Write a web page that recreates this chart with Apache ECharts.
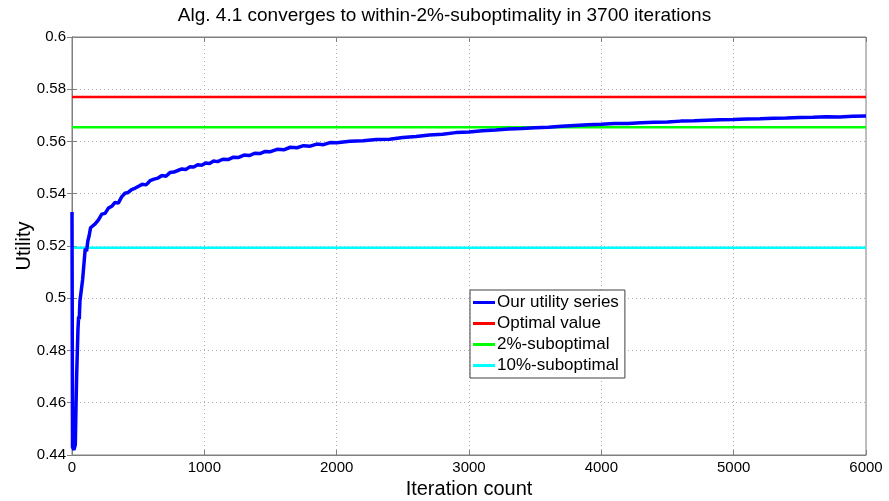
<!DOCTYPE html>
<html>
<head>
<meta charset="utf-8">
<script src="https://cdn.jsdelivr.net/npm/echarts@6/dist/echarts.min.js"></script>
<style>html,body{margin:0;padding:0;background:#fff;}#c{width:889px;height:501px;}</style>
</head>
<body>
<div id="c"></div>
<script>
const titleText = 'Alg. 4.1 converges to within-2%-suboptimality in 3700 iterations';
const xName = 'Iteration count';
const yName = 'Utility';
const seriesNames = ['Our utility series', 'Optimal value', '2%-suboptimal', '10%-suboptimal'];
const xTicks = [0, 1000, 2000, 3000, 4000, 5000, 6000];
const yTicks = [0.44, 0.46, 0.48, 0.5, 0.52, 0.54, 0.56, 0.58, 0.6];

const iterations = [
  0, 4, 15, 25, 30, 35, 40, 45, 50, 55, 60, 70, 80, 90, 100, 110, 120, 130, 140, 150,
  175, 200, 225, 250, 275, 300, 325, 350, 375, 400, 425, 450, 475, 500, 530, 560, 590, 620, 650, 680,
  710, 740, 770, 800, 830, 860, 890, 920, 950, 980, 1010, 1040, 1070, 1100, 1140, 1180, 1220, 1260, 1300, 1340,
  1380, 1420, 1460, 1500, 1550, 1600, 1650, 1700, 1750, 1800, 1850, 1900, 1950, 2000, 2100, 2200, 2300, 2400, 2500, 2600,
  2700, 2800, 2900, 3000, 3100, 3200, 3300, 3400, 3500, 3600, 3700, 3800, 3900, 4000, 4100, 4200, 4300, 4400, 4500, 4600,
  4700, 4800, 4900, 5000, 5100, 5200, 5300, 5400, 5500, 5600, 5700, 5800, 5900, 6000
];
const utility = [
  0.533, 0.443, 0.442, 0.444, 0.458, 0.470, 0.479, 0.488, 0.493, 0.492, 0.499, 0.503, 0.507, 0.513, 0.519, 0.518, 0.522, 0.524, 0.527, 0.5265,
  0.5285, 0.5300, 0.5322, 0.5325, 0.5345, 0.5352, 0.5367, 0.5364, 0.5388, 0.5402, 0.5405, 0.5416, 0.5421, 0.5428, 0.5436, 0.5434, 0.5450, 0.5456, 0.5460, 0.5470,
  0.5467, 0.5481, 0.5483, 0.5489, 0.5495, 0.5493, 0.5503, 0.5502, 0.5511, 0.5509, 0.5518, 0.5516, 0.5525, 0.5523, 0.5532, 0.5531, 0.5540, 0.5539, 0.5548, 0.5546,
  0.5555, 0.5554, 0.5562, 0.5561, 0.5570, 0.5568, 0.5578, 0.5576, 0.5584, 0.5582, 0.5590, 0.5588, 0.5596, 0.5595, 0.5601, 0.5603, 0.5608, 0.5609, 0.5615, 0.5619,
  0.5625, 0.5628, 0.5634, 0.5636, 0.5641, 0.5644, 0.5648, 0.5650, 0.5653, 0.5655, 0.5658, 0.5661, 0.5664, 0.5666, 0.5669, 0.5669, 0.5672, 0.5674, 0.5675, 0.5678,
  0.5679, 0.5681, 0.5683, 0.5684, 0.5686, 0.5687, 0.5689, 0.5690, 0.5692, 0.5693, 0.5695, 0.5694, 0.5697, 0.5698
];
const optimalValue = 0.577;
const subopt2 = 0.5655;
const subopt10 = 0.5193;
const xRange = [0, 6000];

const font = 'Liberation Sans, Arial, sans-serif';
const chart = echarts.init(document.getElementById('c'), null, {renderer: 'canvas'});

const mainData = iterations.map((x, i) => [x, utility[i]]);
const hline = v => xRange.map(x => [x, v]);

const baseAxis = {
  axisLine: {show: true, lineStyle: {color: '#808080', width: 1}},
  axisTick: {show: true, inside: true, length: 5, lineStyle: {color: '#808080'}},
};

chart.setOption({
  animation: false,
  backgroundColor: '#fff',
  title: {
    text: titleText, left: 'center', top: 1,
    textStyle: {fontFamily: font, fontSize: 19, fontWeight: 'normal', color: '#000'}
  },
  grid: {left: 72, right: 23, top: 37, bottom: 46, outerBoundsMode: 'none', containLabel: false,
    show: true, borderColor: '#808080', borderWidth: 1, backgroundColor: '#fff'},
  legend: {
    orient: 'vertical', left: 470, top: 290,
    data: seriesNames,
    icon: 'rect', itemWidth: 22, itemHeight: 3, itemGap: 4,
    backgroundColor: '#fff', borderColor: '#404040', borderWidth: 1, borderRadius: 0,
    padding: [4, 6, 4, 3],
    textStyle: {fontFamily: font, fontSize: 17, color: '#000', lineHeight: 17, padding: [0, 0, 0, -3]}
  },
  xAxis: [
    Object.assign({}, baseAxis, {
      type: 'value', min: xRange[0], max: xRange[1], interval: 1000,
      name: xName, nameLocation: 'middle', nameGap: 23,
      nameTextStyle: {fontFamily: font, fontSize: 20, color: '#000'},
      axisLabel: {fontFamily: font, fontSize: 15, color: '#000', margin: 5,
        formatter: v => xTicks.indexOf(v) >= 0 ? String(v) : ''},
      splitLine: {show: true, lineStyle: {color: '#b0b0b0', type: [1, 3], width: 1}}
    }),
    Object.assign({}, baseAxis, {
      type: 'value', position: 'top', min: xRange[0], max: xRange[1], interval: 1000,
      axisLabel: {show: false}, splitLine: {show: false}
    })
  ],
  yAxis: [
    Object.assign({}, baseAxis, {
      type: 'value', min: yTicks[0], max: yTicks[yTicks.length - 1], interval: 0.02,
      name: yName, nameLocation: 'middle', nameGap: 38, nameRotate: 90, nameMoveOverlap: false,
      nameTextStyle: {fontFamily: font, fontSize: 20, color: '#000'},
      axisLabel: {fontFamily: font, fontSize: 15, color: '#000', margin: 6,
        formatter: v => String(+v.toFixed(2))},
      splitLine: {show: true, lineStyle: {color: '#b0b0b0', type: [1, 3], width: 1}}
    }),
    Object.assign({}, baseAxis, {
      type: 'value', position: 'right', min: yTicks[0], max: yTicks[yTicks.length - 1], interval: 0.02,
      axisLabel: {show: false}, splitLine: {show: false}
    })
  ],
  series: [
    {name: seriesNames[0], type: 'line', data: mainData, showSymbol: false, symbol: 'none',
      lineStyle: {color: '#0000ff', width: 3.5}, itemStyle: {color: '#0000ff'}, z: 5},
    {name: seriesNames[1], type: 'line', data: hline(optimalValue), showSymbol: false, symbol: 'none',
      lineStyle: {color: '#ff0000', width: 2.5}, itemStyle: {color: '#ff0000'}, z: 3},
    {name: seriesNames[2], type: 'line', data: hline(subopt2), showSymbol: false, symbol: 'none',
      lineStyle: {color: '#00ff00', width: 2.5}, itemStyle: {color: '#00ff00'}, z: 3},
    {name: seriesNames[3], type: 'line', data: hline(subopt10), showSymbol: false, symbol: 'none',
      lineStyle: {color: '#00ffff', width: 2.5}, itemStyle: {color: '#00ffff'}, z: 3}
  ]
});
</script>
</body>
</html>
